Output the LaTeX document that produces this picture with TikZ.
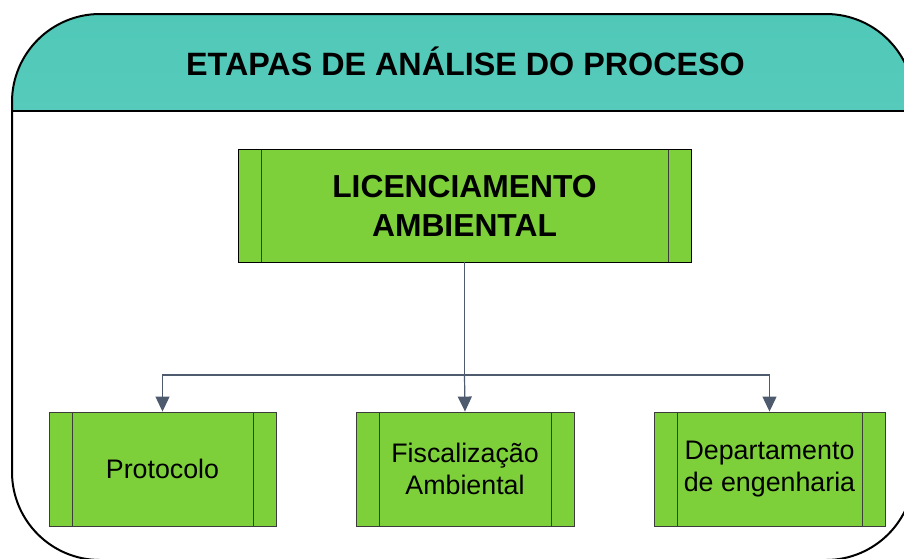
\documentclass[tikz,border=0pt]{standalone}
\usepackage{fontspec}
\setmainfont{Liberation Sans}
\usetikzlibrary{arrows.meta}
\definecolor{boxgreen}{RGB}{126,208,59}
\definecolor{tealtop}{RGB}{80,200,184}
\definecolor{tealbot}{RGB}{114,214,201}
\definecolor{conncol}{RGB}{78,90,110}
\definecolor{edgecol}{RGB}{60,60,60}
\tikzset{
  procbox/.style={draw=edgecol, line width=0.9pt, fill=boxgreen, inner sep=0pt, align=center,
    path picture={
      \draw[edgecol, line width=0.9pt] ([xshift=23pt]path picture bounding box.north west) -- ([xshift=23pt]path picture bounding box.south west);
      \draw[edgecol, line width=0.9pt] ([xshift=-23pt]path picture bounding box.north east) -- ([xshift=-23pt]path picture bounding box.south east);
    }},
  conn/.style={draw=conncol, line width=1.2pt},
  connarrow/.style={conn, -{Triangle[width=14pt,length=15pt]}},
  bigtext/.style={font=\fontsize{31.8}{39}\selectfont\bfseries},
  smalltext/.style={font=\fontsize{26.8}{32}\selectfont},
}
\begin{document}
\begin{tikzpicture}[x=1pt,y=1pt]
\useasboundingbox (0,0) rectangle (904,-558);
\begin{scope}
\clip (0,0) rectangle (904,-558);
\begin{scope}
\clip (0,0) rectangle (904,-111);
\shade[top color=tealtop, bottom color=tealbot, rounded corners=88pt] (12,-560) rectangle (914,-14);
\end{scope}
\draw[line width=2pt, rounded corners=88pt] (12,-560) rectangle (914,-14);
\draw[line width=2pt] (12,-111) -- (914,-111);
\end{scope}
\node[font=\fontsize{32.3}{36}\selectfont\bfseries] (title) at (465.5,-61) {ETAPAS DE ANÁLISE DO PROCESO};

\node[procbox, bigtext, draw=black, minimum width=453pt, minimum height=113pt] (main) at (464.5,-205.5)
  {LICENCIAMENTO\\AMBIENTAL};
\node[procbox, smalltext, minimum width=227pt, minimum height=114pt] (prot) at (162.5,-469)
  {Protocolo};
\node[procbox, smalltext, minimum width=218pt, minimum height=114pt] (fisc) at (465,-469)
  {Fiscalização\\Ambiental};
\node[procbox, smalltext, minimum width=231pt, minimum height=114pt] (dept) at (769.5,-469)
  {Departamento\\de engenharia};

\coordinate (j) at (main.south |- 0,-375);
\draw[conn] (main.south) -- (j);
\draw[connarrow] (j) -- (fisc.north);
\draw[connarrow] (j) -| (prot.north);
\draw[connarrow] (j) -| (dept.north);
\end{tikzpicture}
\end{document}
